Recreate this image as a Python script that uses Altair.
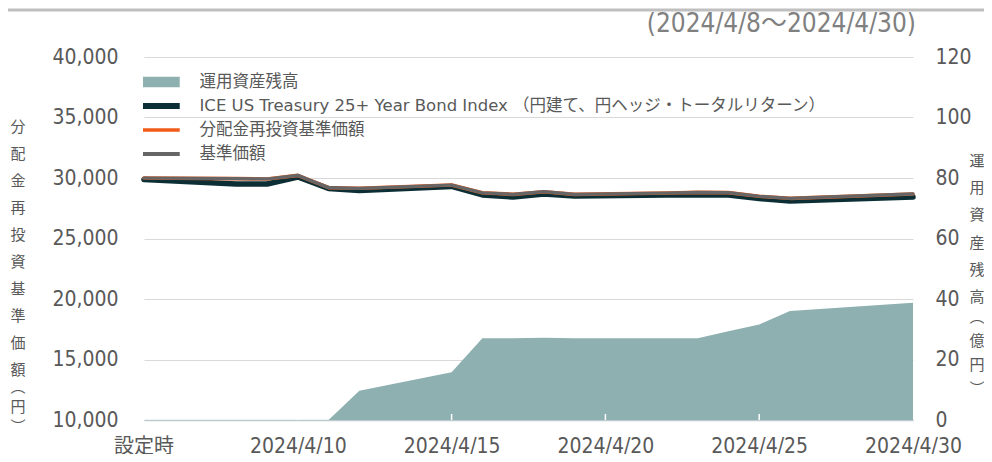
import altair as alt
import pandas as pd

# ---------------- data ----------------
dates = ["2024-04-05", "2024-04-08", "2024-04-09", "2024-04-10", "2024-04-11",
         "2024-04-12", "2024-04-15", "2024-04-16", "2024-04-17", "2024-04-18",
         "2024-04-19", "2024-04-22", "2024-04-23", "2024-04-24", "2024-04-25",
         "2024-04-26", "2024-04-30"]
aum = [0, 0, 0, 0, 0, 9.7, 15.8, 27.0, 27.0, 27.2, 27.0, 27.0, 27.0, 29.3, 31.6, 36.0, 38.8]
ice = [29880, 29500, 29500, 30080, 29130, 28970, 29300, 28600, 28430, 28680,
       28510, 28600, 28600, 28600, 28300, 28100, 28430]
reinvest = [30000, 29950, 29920, 30220, 29200, 29150, 29420, 28780, 28650, 28870,
            28650, 28760, 28810, 28790, 28490, 28320, 28680]
nav = [30000, 29950, 29920, 30220, 29200, 29150, 29420, 28780, 28650, 28870,
       28650, 28760, 28810, 28790, 28490, 28320, 28680]

series_names = ["運用資産残高",
                "ICE US Treasury 25+ Year Bond Index （円建て、円ヘッジ・トータルリターン）",
                "分配金再投資基準価額",
                "基準価額"]
series_colors = ["#8fb0b0", "#0c2f36", "#f25a1a", "#666666"]

left_ticks = [10000, 15000, 20000, 25000, 30000, 35000, 40000]
right_ticks = [0, 20, 40, 60, 80, 100, 120]
x_tick_dates = ["2024-04-05", "2024-04-10", "2024-04-15", "2024-04-20", "2024-04-25", "2024-04-30"]
inner_tick_dates = ["2024-04-10", "2024-04-15", "2024-04-20", "2024-04-25"]
inception_label = "設定時"
period_caption = "(2024/4/8～2024/4/30)"
left_title = ["分", "配", "金", "再", "投", "資", "基", "準", "価", "額"]
left_unit = ["︵", "円", "︶"]
right_title = ["運", "用", "資", "産", "残", "高"]
right_unit = ["︵", "億", "円", "︶"]

# ---------------- tables ----------------
area_df = pd.DataFrame({"date": dates, "value": aum, "series": series_names[0]})
line_df = pd.concat([
    pd.DataFrame({"date": dates, "value": ice, "series": series_names[1]}),
    pd.DataFrame({"date": dates, "value": reinvest, "series": series_names[2]}),
    pd.DataFrame({"date": dates, "value": nav, "series": series_names[3]}),
], ignore_index=True)
tick_df = pd.DataFrame({"date": inner_tick_dates})
inc_df = pd.DataFrame({"date": [dates[0]], "label": [inception_label]})
one = pd.DataFrame({"k": [0]})


def dt(s):
    y, m, d = s.split("-")
    return alt.DateTime(year=int(y), month=int(m), date=int(d), utc=True)


FONT = "DejaVu Sans, Noto Sans CJK JP"
NARROW = "DejaVu Sans Condensed, Noto Sans CJK JP"
CJK = "Noto Sans CJK JP"
TXT = "#595959"

x_scale = alt.Scale(type="utc", domain=[dt(dates[0]), dt(dates[-1])], nice=False)
x_axis = alt.Axis(values=[dt(s) for s in x_tick_dates],
                  labelExpr="utcdate(datum.value) == 5 ? '' : utcFormat(datum.value, '%Y/%-m/%-d')",
                  labelFont=NARROW, labelFontSize=21, labelColor=TXT, labelPadding=15,
                  labelFlush=False, ticks=False, grid=False, domainColor="#bccccc",
                  domainWidth=1.5, labelOverlap=False, title=None, zindex=0)
x_enc = alt.X("date:T", scale=x_scale, axis=x_axis)

AREA = series_names[0]
sym_w = (f"datum.value === '{AREA}' ? 0 : datum.value === '基準価額' ? 4 : "
         "datum.value === '分配金再投資基準価額' ? 3.5 : 6")
sym_shape = f"datum.value === '{AREA}' ? 'M-1,-0.29H1V0.29H-1Z' : 'stroke'"
sym_fill = f"datum.value === '{AREA}' ? '{series_colors[0]}' : 'transparent'"
sym_stroke = "scale('color', datum.value)"
legend = alt.Legend(orient="none", legendX=-1, legendY=15, title=None,
                    symbolType=alt.ExprRef(expr=sym_shape), symbolSize=1369,
                    symbolStrokeWidth=alt.ExprRef(expr=sym_w),
                    symbolFillColor=alt.ExprRef(expr=sym_fill),
                    symbolStrokeColor=alt.ExprRef(expr=sym_stroke),
                    symbolOpacity=1, symbolOffset=10,
                    clipHeight=20, rowPadding=4,
                    labelFont=FONT, labelFontSize=16.5, labelColor=TXT, labelOffset=30,
                    labelLimit=900, padding=0)
color_enc = alt.Color("series:N", scale=alt.Scale(domain=series_names, range=series_colors),
                      legend=legend)

y_left = alt.Y("value:Q",
               scale=alt.Scale(domain=[left_ticks[0], left_ticks[-1]], nice=False, zero=False),
               axis=alt.Axis(orient="left", values=left_ticks, format=",d", grid=True,
                             gridColor="#d9d9d9", gridWidth=1, domain=False, ticks=False,
                             labelFont=NARROW, labelFontSize=21, labelColor=TXT,
                             labelPadding=26, title=None, zindex=0))
y_right = alt.Y("value:Q",
                scale=alt.Scale(domain=[right_ticks[0], right_ticks[-1]], nice=False),
                axis=alt.Axis(orient="right", values=right_ticks, format="d", grid=False,
                              domain=False, ticks=False, labelFont=NARROW, labelFontSize=21,
                              labelColor=TXT, labelPadding=22, title=None, zindex=0))

area = alt.Chart(area_df).mark_area(opacity=1).encode(x=x_enc, y=y_right, color=color_enc)

white_ticks = alt.Chart(tick_df).mark_rule(color="white", strokeWidth=1.5).encode(
    x=alt.X("date:T", scale=x_scale, axis=x_axis), y=alt.value(363), y2=alt.value(357))


def line(name, width):
    return alt.Chart(line_df).transform_filter(alt.datum.series == name).mark_line(
        strokeWidth=width, strokeCap="round", strokeJoin="round").encode(
        x=x_enc, y=y_left, color=color_enc)


l_ice = line(series_names[1], 5.5)
l_re = line(series_names[2], 3.6)
l_nav = line(series_names[3], 3.2)

lines = alt.layer(l_ice, l_re, l_nav)

inc_text = alt.Chart(inc_df).mark_text(font=CJK, fontSize=20, color=TXT, baseline="middle",
                                       align="center").encode(
    x=alt.X("date:T", scale=x_scale, axis=x_axis), y=alt.value(390), text="label:N")

caption = alt.Chart(one).mark_text(text=period_caption, font=NARROW, fontSize=26,
                                   color="#808080", baseline="middle", align="right").encode(
    x=alt.value(772), y=alt.value(-33))

lt = alt.Chart(one).mark_text(text=left_title, lineHeight=27, font=CJK, fontSize=15,
                              color=TXT, baseline="top", align="center").encode(
    x=alt.value(-126), y=alt.value(63))
lu = alt.Chart(one).mark_text(text=left_unit, lineHeight=20, font=CJK, fontSize=15,
                              color=TXT, baseline="top", align="center").encode(
    x=alt.value(-126), y=alt.value(323))
rt = alt.Chart(one).mark_text(text=right_title, lineHeight=27.2, font=CJK, fontSize=15,
                              color=TXT, baseline="top", align="center").encode(
    x=alt.value(833), y=alt.value(97))
ru = alt.Chart(one).mark_text(text=right_unit, lineHeight=24, font=CJK, fontSize=15,
                              color=TXT, baseline="top", align="center").encode(
    x=alt.value(833), y=alt.value(253))
top_rule = alt.Chart(one).mark_rule(color="#bfbfbf", strokeWidth=3).encode(
    x=alt.value(-136), x2=alt.value(840), y=alt.value(-47))

chart = alt.layer(area, white_ticks, lines, inc_text, caption, lt, lu, rt, ru,
                  top_rule).resolve_scale(
    y="independent"
).properties(
    width=769, height=363,
    autosize=alt.AutoSizeParams(type="none"),
    padding={"left": 136, "top": 49, "right": 71, "bottom": 34},
).configure_view(stroke=None)

chart.save("out.html", embed_options={"renderer": "svg", "actions": False})
